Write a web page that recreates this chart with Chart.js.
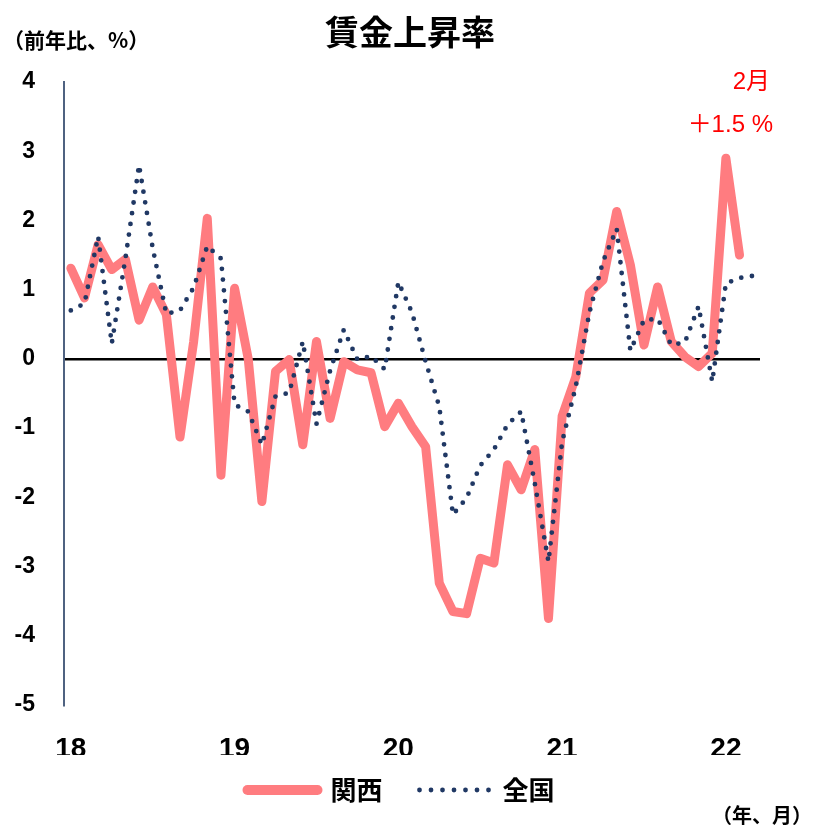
<!DOCTYPE html>
<html lang="ja">
<head>
  <meta charset="UTF-8">
  <title>賃金上昇率</title>
  <script src="https://cdn.jsdelivr.net/npm/chart.js"></script>
  <style>
    body { margin: 0; background: #fff; }
    #wrap { position: relative; width: 814px; height: 828px; }
    .lbl { position: absolute; white-space: nowrap; line-height: 1; }
    .jp { font-family: "Noto Sans CJK JP", sans-serif; font-weight: bold; color: #000; }
    .note { font-family: "Liberation Sans", "Noto Sans CJK JP", sans-serif; color: #ff0000; font-size: 24px; text-align: right; }
  </style>
</head>
<body>
  <div id="wrap">
    <canvas id="wageChart" width="814" height="828"></canvas>
    <div class="lbl jp" style="left:3px; width:814px; top:14px; font-size:34px; text-align:center;">賃金上昇率</div>
    <div class="lbl jp" style="left:3px; top:29px; font-size:21px;">（前年比、%）</div>
    <div class="lbl note" style="right:44px; top:69px;">2月</div>
    <div class="lbl note" style="right:41px; top:112px;">＋1.5 %</div>
    <div class="lbl jp" style="right:2px; top:805px; font-size:20px;">（年、月）</div>
  </div>

  <script>
    // monthly categories, Jan 2018 - Mar 2022
    const months = [
      '18/1', '18/2', '18/3', '18/4', '18/5', '18/6', '18/7', '18/8', '18/9', '18/10', '18/11', '18/12',
      '19/1', '19/2', '19/3', '19/4', '19/5', '19/6', '19/7', '19/8', '19/9', '19/10', '19/11', '19/12',
      '20/1', '20/2', '20/3', '20/4', '20/5', '20/6', '20/7', '20/8', '20/9', '20/10', '20/11', '20/12',
      '21/1', '21/2', '21/3', '21/4', '21/5', '21/6', '21/7', '21/8', '21/9', '21/10', '21/11', '21/12',
      '22/1', '22/2', '22/3'
    ];
    const yearLabels = ['18', '19', '20', '21', '22'];

    // 関西 (year-on-year, %)
    const kansai = [
      1.31, 0.88, 1.65, 1.29, 1.44, 0.56, 1.04, 0.64, -1.13, 0.25, 2.03, -1.68,
      1.02, 0.0, -2.06, -0.18, -0.01, -1.24, 0.25, -0.86, -0.04, -0.16, -0.2, -0.98,
      -0.64, -0.98, -1.27, -3.24, -3.65, -3.68, -2.88, -2.95, -1.53, -1.89, -1.31, -3.75,
      -0.83, -0.26, 0.95, 1.14, 2.13, 1.36, 0.2, 1.04, 0.25, 0.03, -0.11, 0.08,
      2.9, 1.5, null
    ];

    // 全国 (year-on-year, %)
    const zenkoku = [
      0.7, 0.8, 1.77, 0.22, 1.45, 2.8, 1.6, 0.65, 0.7, 1.03, 1.63, 1.45,
      -0.66, -0.76, -1.24, -0.54, -0.49, 0.25, -0.94, -0.17, 0.42, -0.01, 0.04, -0.15,
      1.11, 0.67, -0.04, -0.69, -2.25, -2.01, -1.54, -1.31, -0.95, -0.76, -1.8, -2.93,
      -1.2, -0.4, 0.67, 1.41, 1.88, 0.12, 0.56, 0.58, 0.2, 0.24, 0.76, -0.33,
      1.09, 1.17, 1.2
    ];

    const yTicks = [4, 3, 2, 1, 0, -1, -2, -3, -4, -5];

    const red = '#ff7c80';
    const navy = '#203864';

    // nudge the legend row to sit under the plot like the original layout
    const legendShift = {
      id: 'legendShift',
      afterLayout(chart) {
        const lg = chart.legend;
        lg.left += 21;
        lg.right += 21;
        lg.top -= 15;
        lg.bottom -= 15;
      }
    };

    const data = {
      labels: months,
      datasets: [
        {
          label: '関西',
          data: kansai,
          borderColor: red,
          borderWidth: 9,
          borderJoinStyle: 'round',
          borderCapStyle: 'round',
          pointRadius: 0,
          tension: 0,
          order: 1
        },
        {
          label: '全国',
          data: zenkoku,
          borderColor: navy,
          borderWidth: 4.8,
          borderDash: [0, 10.8],
          borderCapStyle: 'round',
          pointRadius: 0,
          tension: 0,
          order: 0
        }
      ]
    };

    const config = {
      type: 'line',
      data: data,
      plugins: [legendShift],
      options: {
        responsive: false,
        animation: false,
        layout: { padding: { top: 82, right: 54, left: 0, bottom: 0 } },
        plugins: {
          title: { display: false },
          tooltip: { enabled: false },
          legend: {
            position: 'bottom',
            labels: {
              usePointStyle: true,
              pointStyleWidth: 70,
              padding: 37,
              color: '#000',
              font: { family: "'Noto Sans CJK JP', sans-serif", size: 26, weight: 'bold' },
              generateLabels: () => [
                { text: '関西', strokeStyle: red, lineWidth: 10, lineCap: 'round', lineDash: [], pointStyle: 'line', datasetIndex: 0 },
                { text: '全国', strokeStyle: navy, lineWidth: 4.8, lineCap: 'round', lineDash: [0, 11.5], pointStyle: 'line', datasetIndex: 1 }
              ]
            }
          }
        },
        scales: {
          x: {
            offset: true,
            grid: { display: false },
            border: { display: false },
            afterFit: (scale) => { scale.height = 50; },
            ticks: {
              autoSkip: false,
              maxRotation: 0,
              padding: 19,
              color: '#000',
              font: { family: "'Liberation Sans Narrow', 'Liberation Sans', Arial, sans-serif", size: 28, weight: 'bold' },
              callback: (value, index) => (index % 12 === 0 ? yearLabels[index / 12] : '')
            }
          },
          y: {
            min: -5,
            max: 4,
            afterFit: (scale) => { scale.width = 64; },
            afterBuildTicks: (scale) => { scale.ticks = yTicks.map(v => ({ value: v })); },
            border: { display: true, color: '#4f6281', width: 2 },
            grid: {
              drawTicks: false,
              lineWidth: 2.5,
              color: (ctx) => (ctx.tick && ctx.tick.value === 0 ? '#000' : 'rgba(0,0,0,0)')
            },
            ticks: {
              padding: 29,
              color: '#000',
              font: { family: "'Liberation Sans', Arial, sans-serif", size: 23, weight: 'bold' }
            }
          }
        }
      }
    };

    const ctx = document.getElementById('wageChart').getContext('2d');
    const chart = new Chart(ctx, config);
  </script>
</body>
</html>
